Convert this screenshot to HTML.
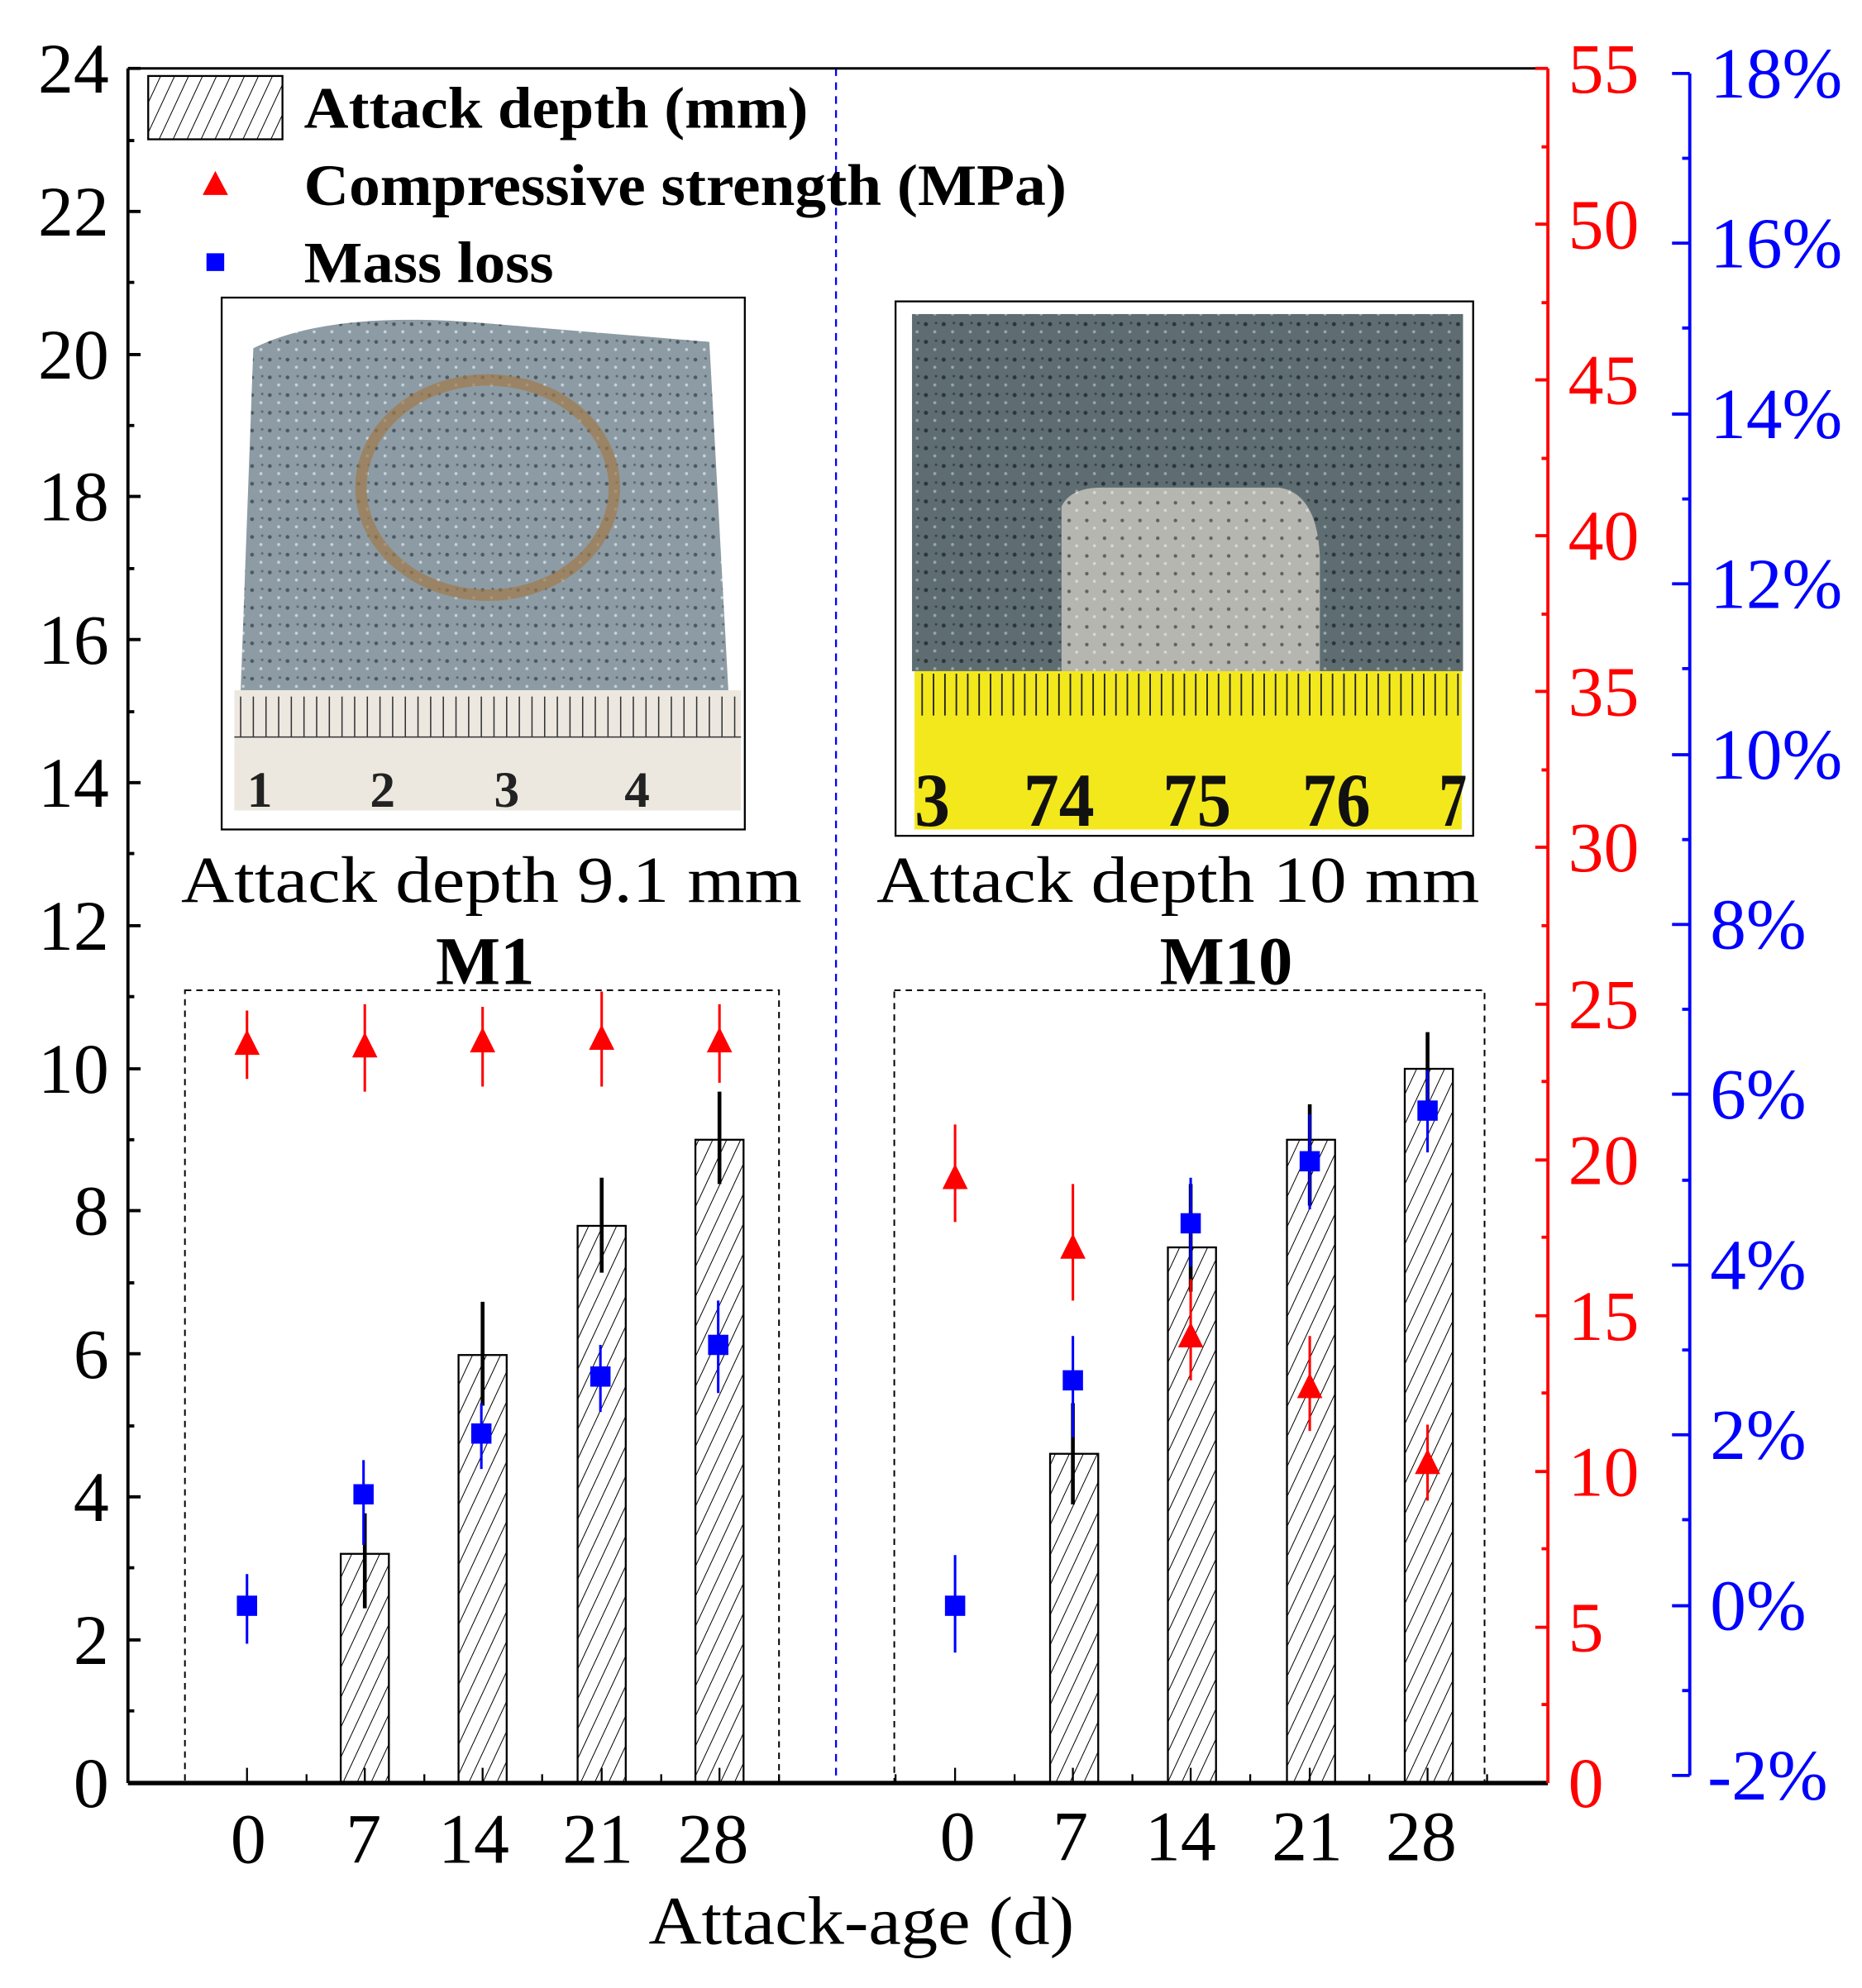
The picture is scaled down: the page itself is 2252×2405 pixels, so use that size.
<!DOCTYPE html>
<html><head><meta charset="utf-8"><style>
html,body{margin:0;padding:0;background:#fff}
svg{display:block}
text{font-family:"Liberation Serif",serif}
</style></head><body>
<svg width="2252" height="2405" viewBox="0 0 2252 2405" xmlns="http://www.w3.org/2000/svg">
<defs>
<pattern id="h" patternUnits="userSpaceOnUse" width="10" height="10" patternTransform="rotate(25)">
<line x1="0" y1="0" x2="0" y2="10" stroke="#000" stroke-width="1.3"/>
</pattern>
<pattern id="st" patternUnits="userSpaceOnUse" width="14" height="14">
<rect width="14" height="14" fill="#8d9ba4"/><circle cx="3" cy="4" r="1.5" fill="#4d5860"/><circle cx="10" cy="10" r="1.2" fill="#c9d2d8"/><circle cx="11" cy="3" r="1" fill="#5e6970"/>
</pattern>
<pattern id="st2" patternUnits="userSpaceOnUse" width="14" height="14">
<rect width="14" height="14" fill="#5e6d72"/><circle cx="3" cy="4" r="1.6" fill="#2d3538"/><circle cx="10" cy="10" r="1.2" fill="#9aa7a8"/><circle cx="11" cy="3" r="1" fill="#3a4447"/>
</pattern>
<pattern id="st3" patternUnits="userSpaceOnUse" width="14" height="14">
<rect width="14" height="14" fill="#b5b6b0"/><circle cx="4" cy="5" r="1.4" fill="#5f6260"/><circle cx="10" cy="11" r="1.2" fill="#d8d8d2"/>
</pattern>
</defs>
<g transform="scale(1.532)">
<rect x="175" y="235" width="413" height="420" fill="#fff" stroke="#000" stroke-width="1.5"/>
<path d="M200 275 Q260 245 380 255 L560 270 L575 545 L190 545 Z" fill="url(#st)"/>
<ellipse cx="385" cy="385" rx="100" ry="85" fill="none" stroke="#a07a4a" stroke-width="9" opacity="0.7"/>
<rect x="185" y="545" width="400" height="95" fill="#ece8e0"/>
<line x1="185" y1="582" x2="585" y2="582" stroke="#333" stroke-width="1"/>
<path d="M190 550V582M200 550V582M210 550V582M220 550V582M230 550V582M240 550V582M250 550V582M260 550V582M270 550V582M280 550V582M290 550V582M300 550V582M310 550V582M320 550V582M330 550V582M340 550V582M350 550V582M360 550V582M370 550V582M380 550V582M390 550V582M400 550V582M410 550V582M420 550V582M430 550V582M440 550V582M450 550V582M460 550V582M470 550V582M480 550V582M490 550V582M500 550V582M510 550V582M520 550V582M530 550V582M540 550V582M550 550V582M560 550V582M570 550V582M580 550V582" stroke="#333" stroke-width="1"/>
<g font-size="40" font-weight="bold" fill="#222"><text x="195" y="637">1</text><text x="292" y="637">2</text><text x="390" y="637">3</text><text x="493" y="637">4</text></g>

<rect x="707" y="238" width="456" height="422" fill="#fff" stroke="#000" stroke-width="1.5"/>
<rect x="720" y="248" width="435" height="282" fill="url(#st2)"/>
<path d="M838 530 L838 400 Q845 385 870 385 L1010 385 Q1040 390 1042 440 L1042 530 Z" fill="url(#st3)"/>
<rect x="722" y="530" width="432" height="125" fill="#f3e81c"/>
<path d="M728 532V565M737 532V565M746 532V565M755 532V565M764 532V565M773 532V565M782 532V565M791 532V565M800 532V565M809 532V565M818 532V565M827 532V565M836 532V565M845 532V565M854 532V565M863 532V565M872 532V565M881 532V565M890 532V565M899 532V565M908 532V565M917 532V565M926 532V565M935 532V565M944 532V565M953 532V565M962 532V565M971 532V565M980 532V565M989 532V565M998 532V565M1007 532V565M1016 532V565M1025 532V565M1034 532V565M1043 532V565M1052 532V565M1061 532V565M1070 532V565M1079 532V565M1088 532V565M1097 532V565M1106 532V565M1115 532V565M1124 532V565M1133 532V565M1142 532V565M1151 532V565" stroke="#222" stroke-width="1.2"/>
<g font-size="60" font-weight="bold" fill="#111" font-family="Liberation Sans,sans-serif">
<text x="722" y="652" font-family="Liberation Sans,sans-serif" textLength="28" lengthAdjust="spacingAndGlyphs">3</text>
<text x="808" y="652" font-family="Liberation Sans,sans-serif" textLength="56" lengthAdjust="spacingAndGlyphs">74</text>
<text x="918" y="652" font-family="Liberation Sans,sans-serif" textLength="54" lengthAdjust="spacingAndGlyphs">75</text>
<text x="1028" y="652" font-family="Liberation Sans,sans-serif" textLength="54" lengthAdjust="spacingAndGlyphs">76</text>
<text x="1136" y="652" font-family="Liberation Sans,sans-serif" textLength="22" lengthAdjust="spacingAndGlyphs">7</text></g>

<line x1="660" y1="54" x2="660" y2="1408" stroke="#00f" stroke-width="1.5" stroke-dasharray="6,5"/>
<rect x="146" y="782" width="469" height="626" fill="none" stroke="#000" stroke-width="1.3" stroke-dasharray="5,4"/>
<rect x="706" y="782" width="466" height="626" fill="none" stroke="#000" stroke-width="1.3" stroke-dasharray="5,4"/>

<g fill="url(#h)" stroke="#000" stroke-width="1.5">
<rect x="269" y="1227" width="38" height="181"/>
<rect x="362" y="1070" width="38" height="338"/>
<rect x="456" y="968" width="38" height="440"/>
<rect x="549" y="900" width="38" height="508"/>
<rect x="829" y="1148" width="38" height="260"/>
<rect x="922" y="985" width="38" height="423"/>
<rect x="1016" y="900" width="38" height="508"/>
<rect x="1109" y="844" width="38" height="564"/>
</g>
<path d="M288 1195V1270M381 1028V1110M475 930V1005M568 862V935M847 1108V1188M940 935V1020M1034 872V952M1127 815V882" stroke="#000" stroke-width="3"/>
<path d="M195 798V852M288 793V862M381 795V858M475 783V858M568 793V855M754 888V965M847 935V1027M940 1010V1090M1034 1055V1130M1127 1125V1185" stroke="#f00" stroke-width="2"/>
<g fill="#f00">
<path d="M195 813l10 20h-20z"/><path d="M288 815l10 20h-20z"/><path d="M381 811l10 20h-20z"/><path d="M475 809l10 20h-20z"/><path d="M568 811l10 20h-20z"/>
<path d="M754 919l10 20h-20z"/><path d="M847 974l10 20h-20z"/><path d="M940 1044l10 20h-20z"/><path d="M1034 1084l10 20h-20z"/><path d="M1127 1144l10 20h-20z"/>
</g>
<path d="M195 1243V1298M287 1153V1220M380 1108V1160M474 1062V1115M567 1027V1100M754 1228V1305M847 1055V1135M940 930V1000M1034 880V955M1127 845V910" stroke="#00f" stroke-width="2"/>
<g fill="#00f">
<rect x="187" y="1260" width="16" height="16"/><rect x="279" y="1172" width="16" height="16"/><rect x="372" y="1124" width="16" height="16"/><rect x="466" y="1079" width="16" height="16"/><rect x="559" y="1054" width="16" height="16"/>
<rect x="746" y="1260" width="16" height="16"/><rect x="839" y="1082" width="16" height="16"/><rect x="932" y="958" width="16" height="16"/><rect x="1026" y="909" width="16" height="16"/><rect x="1119" y="869" width="16" height="16"/>
</g>

<line x1="101" y1="54" x2="1222" y2="54" stroke="#000" stroke-width="2"/>
<line x1="101" y1="54" x2="101" y2="1408" stroke="#000" stroke-width="2.5"/>
<line x1="101" y1="1408" x2="1222" y2="1408" stroke="#000" stroke-width="3.5"/>
<line x1="1222" y1="54" x2="1222" y2="1408" stroke="#f00" stroke-width="2.5"/>
<line x1="1334" y1="58" x2="1334" y2="1402" stroke="#00f" stroke-width="2.5"/>
<path d="M101 54h10M101 167h10M101 280h10M101 392h10M101 505h10M101 618h10M101 731h10M101 844h10M101 956h10M101 1069h10M101 1182h10M101 1295h10M101 111h5M101 223h5M101 336h5M101 449h5M101 562h5M101 674h5M101 787h5M101 900h5M101 1013h5M101 1126h5M101 1238h5M101 1351h5" stroke="#000" stroke-width="2.5"/>
<g font-size="56" text-anchor="end" fill="#000">
<text x="86" y="73">24</text><text x="86" y="186">22</text><text x="86" y="299">20</text><text x="86" y="411">18</text><text x="86" y="524">16</text><text x="86" y="637">14</text><text x="86" y="750">12</text><text x="86" y="863">10</text><text x="86" y="975">8</text><text x="86" y="1088">6</text><text x="86" y="1201">4</text><text x="86" y="1314">2</text><text x="86" y="1427">0</text>
</g>
<path d="M1222 54h-10M1222 177h-10M1222 300h-10M1222 423h-10M1222 546h-10M1222 669h-10M1222 793h-10M1222 916h-10M1222 1039h-10M1222 1162h-10M1222 1285h-10M1222 116h-5M1222 239h-5M1222 362h-5M1222 485h-5M1222 608h-5M1222 731h-5M1222 854h-5M1222 977h-5M1222 1100h-5M1222 1223h-5M1222 1346h-5" stroke="#f00" stroke-width="2.5"/>
<g font-size="56" fill="#f00">
<text x="1238" y="73">55</text><text x="1238" y="196">50</text><text x="1238" y="319">45</text><text x="1238" y="442">40</text><text x="1238" y="565">35</text><text x="1238" y="688">30</text><text x="1238" y="812">25</text><text x="1238" y="935">20</text><text x="1238" y="1058">15</text><text x="1238" y="1181">10</text><text x="1238" y="1304">5</text><text x="1238" y="1427">0</text>
</g>
<path d="M1334 58h-14M1334 192h-14M1334 327h-14M1334 461h-14M1334 596h-14M1334 730h-14M1334 864h-14M1334 999h-14M1334 1133h-14M1334 1268h-14M1334 1402h-14M1334 125h-6M1334 259h-6M1334 394h-6M1334 528h-6M1334 663h-6M1334 797h-6M1334 932h-6M1334 1066h-6M1334 1200h-6M1334 1335h-6" stroke="#00f" stroke-width="2.5"/>
<g font-size="57" fill="#00f">
<text x="1350" y="77">18%</text><text x="1350" y="211">16%</text><text x="1350" y="346">14%</text><text x="1350" y="480">12%</text><text x="1350" y="615">10%</text><text x="1350" y="749">8%</text><text x="1350" y="883">6%</text><text x="1350" y="1018">4%</text><text x="1350" y="1152">2%</text><text x="1350" y="1287">0%</text><text x="1348" y="1421">-2%</text>
</g>
<path d="M195 1408v-12M288 1408v-12M381 1408v-12M475 1408v-12M568 1408v-12M754 1408v-12M847 1408v-12M940 1408v-12M1034 1408v-12M1127 1408v-12M242 1408v-7M335 1408v-7M428 1408v-7M522 1408v-7M615 1408v-7M707 1408v-7M801 1408v-7M894 1408v-7M987 1408v-7M1081 1408v-7M1174 1408v-7" stroke="#000" stroke-width="1.5"/>
<g font-size="56" text-anchor="middle" fill="#000">
<text x="196" y="1471">0</text><text x="287" y="1471">7</text><text x="374" y="1471">14</text><text x="472" y="1471">21</text><text x="563" y="1471">28</text>
<text x="756" y="1469">0</text><text x="845" y="1469">7</text><text x="932" y="1469">14</text><text x="1032" y="1469">21</text><text x="1122" y="1469">28</text>
</g>
<text x="680" y="1535" font-size="54" text-anchor="middle" textLength="336" lengthAdjust="spacingAndGlyphs">Attack-age (d)</text>
<text x="388" y="712" font-size="52" text-anchor="middle" textLength="490" lengthAdjust="spacingAndGlyphs">Attack depth 9.1 mm</text>
<text x="930" y="712" font-size="52" text-anchor="middle" textLength="476" lengthAdjust="spacingAndGlyphs">Attack depth 10 mm</text>
<text x="383" y="777" font-size="54" font-weight="bold" text-anchor="middle">M1</text>
<text x="968" y="777" font-size="54" font-weight="bold" text-anchor="middle">M10</text>
<rect x="117" y="60" width="106" height="50" fill="url(#h)" stroke="#000" stroke-width="1.5"/>
<text x="240" y="101" font-size="46" font-weight="bold" textLength="398" lengthAdjust="spacingAndGlyphs">Attack depth (mm)</text>
<path d="M170 135l10 19h-20z" fill="#f00"/>
<text x="240" y="162" font-size="46" font-weight="bold" textLength="602" lengthAdjust="spacingAndGlyphs">Compressive strength (MPa)</text>
<rect x="163" y="200" width="14" height="14" fill="#00f"/>
<text x="240" y="223" font-size="46" font-weight="bold" textLength="197" lengthAdjust="spacingAndGlyphs">Mass loss</text>
</g>
</svg>
</body></html>
